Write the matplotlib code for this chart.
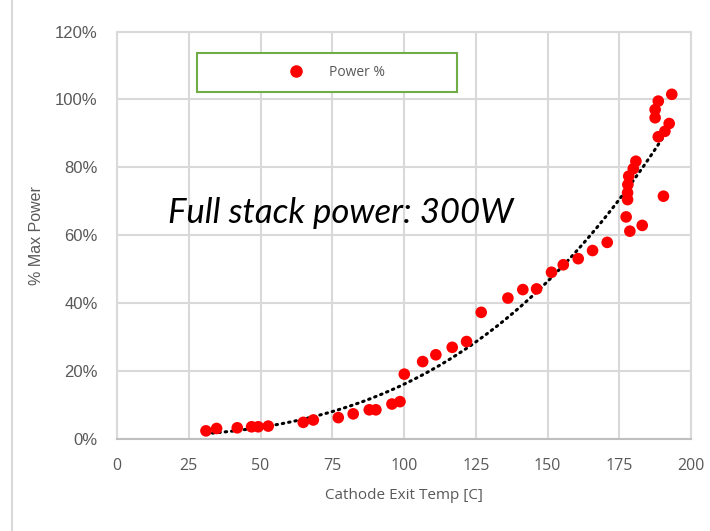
import matplotlib.pyplot as plt
from matplotlib.lines import Line2D
from matplotlib.patches import Rectangle
from matplotlib.ticker import FuncFormatter
import numpy as np

# Cathode exit temperature [C] vs % of max stack power
temp_c = [31.0, 34.7, 41.9, 46.9, 49.2, 52.7, 64.9, 68.4, 77.1, 82.3,
          87.9, 90.2, 95.8, 98.6, 100.1, 106.5, 111.1, 116.8, 121.8, 126.9,
          136.2, 141.4, 146.2, 151.4, 155.5, 160.7, 165.7, 170.8, 177.4, 178.7,
          183.0, 177.9, 177.9, 178.0, 178.3, 179.9, 180.8, 190.4, 188.6, 190.9,
          192.4, 187.5, 187.5, 188.6, 193.3]
power_pct = [2.4, 3.1, 3.3, 3.6, 3.6, 3.8, 4.9, 5.6, 6.3, 7.4,
             8.6, 8.6, 10.3, 11.0, 19.1, 22.8, 24.8, 27.0, 28.7, 37.3,
             41.5, 44.0, 44.2, 49.1, 51.3, 53.1, 55.5, 57.9, 65.4, 61.2,
             62.9, 70.5, 72.5, 74.9, 77.4, 79.6, 81.8, 71.5, 89.0, 90.6,
             92.9, 94.6, 97.0, 99.5, 101.5]

x_ticks = [0, 25, 50, 75, 100, 125, 150, 175, 200]
y_ticks = [0, 20, 40, 60, 80, 100, 120]

grey_txt = '#595959'
grid_col = '#d9d9d9'

fig = plt.figure(figsize=(7.1, 5.31), dpi=100)
ax = fig.add_axes([117 / 710, 1 - 439 / 531, 574 / 710, 407.5 / 531])

# trendline (polynomial fit of the data, like the spreadsheet)
coef = np.polyfit(temp_c, power_pct, 3)
xt = np.linspace(min(temp_c), max(temp_c), 200)
ax.plot(xt, np.polyval(coef, xt), color='black', lw=2.2,
        linestyle=(0, (0.5, 1.6)), dash_capstyle='round', zorder=3)

ax.scatter(temp_c, power_pct, s=70, color='#ff0000', edgecolors='none', zorder=4)

ax.set_xlim(0, 200)
ax.set_ylim(0, 120)
ax.set_xticks(x_ticks)
ax.set_yticks(y_ticks)
ax.yaxis.set_major_formatter(FuncFormatter(lambda v, p: f'{v:.0f}%'))
ax.tick_params(length=0, pad=14, labelsize=12, colors=grey_txt)
for lab in ax.get_xticklabels():
    lab.set_fontfamily('Open Sans')
    lab.set_fontsize(11.5)
for lab in ax.get_yticklabels():
    lab.set_fontfamily('Liberation Sans')
ax.grid(True, color=grid_col, lw=1.5)
ax.set_axisbelow(True)
for s in ax.spines.values():
    s.set_color(grid_col)
    s.set_linewidth(1.5)
ax.spines['bottom'].set_color('#bfbfbf')

ax.set_xlabel('Cathode Exit Temp [C]', fontsize=11, color=grey_txt,
              fontfamily='Open Sans', labelpad=10)
ax.set_ylabel('% Max Power', fontsize=11.5, color=grey_txt,
              fontfamily='Liberation Sans', labelpad=8)

# legend box (frame drawn separately so the entry sits centred)
x0, x1 = (197 - 117) / 574, (457 - 117) / 574
y0, y1 = 1 - (92 - 31.5) / 407.5, 1 - (53 - 31.5) / 407.5
ax.add_patch(Rectangle((x0, y0), x1 - x0, y1 - y0, transform=ax.transAxes,
                       facecolor='white', edgecolor='#70ad47', lw=1.5,
                       zorder=5, clip_on=False))
handle = Line2D([], [], marker='o', color='#ff0000', linestyle='none', markersize=8)
leg = ax.legend([handle], ['Power %'], loc='center',
                bbox_to_anchor=((x0 + x1) / 2 + 0.012, (y0 + y1) / 2),
                frameon=False, handletextpad=1.4,
                prop={'family': 'Open Sans', 'size': 10})
leg.set_zorder(6)
for t in leg.get_texts():
    t.set_color(grey_txt)

ax.text(0.389, 0.555, 'Full stack power: 300W', transform=ax.transAxes,
        fontsize=25, fontstyle='italic', fontfamily='Lato', color='black',
        ha='center', va='center')

# left edge of the original slide frame
fig.add_artist(Line2D([12 / 710, 12 / 710], [0, 1], color=grid_col, lw=1.5))

fig.savefig('out.png', dpi=100)
